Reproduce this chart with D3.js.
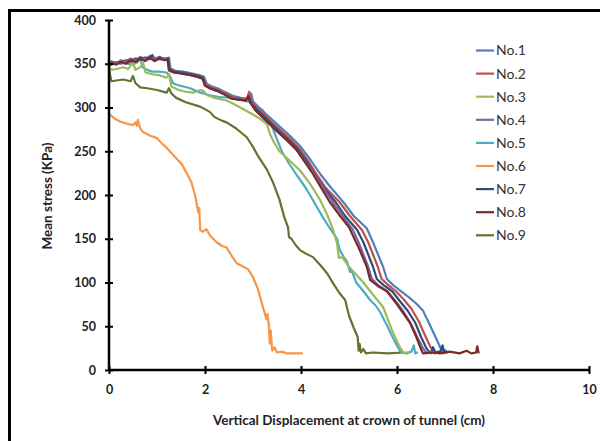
<!DOCTYPE html>
<html><head><meta charset="utf-8">
<script src="https://cdn.jsdelivr.net/npm/d3@7"></script>
<style>body{margin:0;background:#fff}svg{display:block}</style>
</head><body>
<svg id="c" width="600" height="441"></svg>
<script>
const seriesNames = ["No.1","No.2","No.3","No.4","No.5","No.6","No.7","No.8","No.9"];
const seriesColors = ["#4F81BD","#C0504D","#9BBB59","#8064A2","#4BACC6","#F79646","#2C4D75","#772C2A","#5F7530"];
const xTicks = [0,2,4,6,8,10];
const yTicks = [0,50,100,150,200,250,300,350,400];

const no1 = [[0,350],[0.05,353],[0.15,350],[0.25,354],[0.35,352],[0.45,356],[0.55,353],[0.65,358],[0.75,355],[0.85,359],[0.95,355],[1.05,358],[1.15,355],[1.25,357],[1.28,345],[1.38,342],[1.55,341],[1.72,339],[1.88,337],[1.98,335],[2.04,327],[2.15,324],[2.3,321],[2.45,317],[2.6,313],[2.75,311],[2.9,310],[2.96,316],[3.0,307],[3.12,300],[3.28,292],[3.42,285],[3.58,277],[3.78,267],[3.98,256],[4.2,240],[4.4,224],[4.6,210],[4.88,192],[5.1,176],[5.37,162],[5.5,146],[5.62,130],[5.71,118],[5.79,104],[5.92,97],[6.06,91],[6.25,83],[6.4,76],[6.54,68],[6.68,52],[6.8,38],[6.9,26],[6.96,19],[7.0,23],[7.05,20]];
const no2 = [[0,349],[0.05,352],[0.15,351],[0.25,353],[0.35,351],[0.45,355],[0.55,354],[0.65,357],[0.75,354],[0.85,358],[0.95,354],[1.05,357],[1.15,356],[1.24,356],[1.26,344],[1.36,341],[1.52,340],[1.7,338],[1.86,336],[1.96,334],[2.02,326],[2.12,323],[2.27,320],[2.42,316],[2.57,312],[2.72,310],[2.87,309],[2.92,318],[2.97,306],[3.08,299],[3.24,291],[3.39,283],[3.55,275],[3.75,265],[3.95,254],[4.15,239],[4.32,224],[4.52,208],[4.8,192],[5.02,176],[5.27,160],[5.4,146],[5.5,132],[5.6,118],[5.68,104],[5.82,97],[5.98,90],[6.15,80],[6.3,70],[6.45,56],[6.58,40],[6.7,26],[6.78,19],[6.85,21],[6.92,20]];
const no3 = [[0,347],[0.05,343],[0.15,344],[0.3,346],[0.4,344],[0.5,352],[0.55,343],[0.65,346],[0.71,351],[0.76,340],[0.9,338],[1.05,337],[1.2,334],[1.25,338],[1.3,324],[1.45,320],[1.6,318],[1.75,317],[1.9,320],[1.96,319],[2.05,314],[2.2,311],[2.45,308],[2.6,304],[2.8,298],[3.0,292],[3.15,287],[3.29,281],[3.35,270],[3.42,262],[3.55,250],[3.75,240],[3.98,228],[4.2,212],[4.4,194],[4.55,177],[4.67,160],[4.75,145],[4.79,128],[4.86,129],[5.0,118],[5.3,100],[5.5,86],[5.71,72],[5.9,45],[6.05,27],[6.13,20],[6.25,20]];
const no4 = [[0,350],[0.05,349],[0.15,352],[0.25,350],[0.35,353],[0.45,352],[0.55,355],[0.65,354],[0.75,356],[0.85,355],[0.95,357],[1.05,355],[1.15,356],[1.22,355],[1.25,342],[1.35,340],[1.5,339],[1.7,337],[1.85,335],[1.95,333],[2.0,325],[2.1,322],[2.25,319],[2.4,315],[2.55,311],[2.7,309],[2.85,308],[2.9,311],[2.95,305],[3.05,297],[3.2,289],[3.35,281],[3.5,273],[3.7,263],[3.9,252],[4.1,237],[4.27,224],[4.45,209],[4.66,192],[4.87,176],[5.08,160],[5.2,146],[5.3,132],[5.4,118],[5.48,104],[5.63,96],[5.8,90],[5.98,78],[6.12,68],[6.28,54],[6.42,38],[6.55,24],[6.62,19],[6.7,21],[6.78,20]];
const no5 = [[0,352],[0.1,350],[0.3,351],[0.5,349],[0.6,352],[0.65,357],[0.7,346],[0.79,343],[0.9,341],[1.05,341],[1.2,340],[1.27,336],[1.33,328],[1.41,326],[1.55,324],[1.69,322],[1.9,317],[2.1,314],[2.3,312],[2.58,311],[2.8,308],[3.0,305],[3.2,297],[3.35,285],[3.49,265],[3.6,250],[3.75,236],[3.92,222],[4.1,208],[4.25,194],[4.45,175],[4.6,162],[4.75,150],[4.81,137],[4.9,128],[4.96,124],[5.02,112],[5.06,113],[5.15,100],[5.3,90],[5.44,80],[5.55,74],[5.65,66],[5.8,50],[5.95,33],[6.06,22],[6.1,20],[6.2,19],[6.3,21],[6.35,28],[6.38,19],[6.42,20]];
const no6 = [[0,293],[0.1,288],[0.23,284],[0.4,281],[0.5,280],[0.55,283],[0.58,279],[0.6,286],[0.65,276],[0.71,272],[0.85,268],[1.0,265],[1.1,259],[1.2,254],[1.3,248],[1.4,242],[1.52,235],[1.62,225],[1.72,214],[1.8,198],[1.86,180],[1.88,185],[1.9,160],[1.96,158],[2.03,161],[2.1,154],[2.24,146],[2.35,142],[2.45,140],[2.55,131],[2.66,122],[2.8,118],[2.9,115],[3.0,106],[3.1,93],[3.2,73],[3.28,58],[3.3,64],[3.33,52],[3.35,30],[3.37,45],[3.4,22],[3.45,26],[3.5,20],[3.6,21],[3.7,19],[4.02,19]];
const no7 = [[0,351],[0.05,350],[0.15,352],[0.25,351],[0.35,354],[0.45,353],[0.55,356],[0.65,355],[0.75,357],[0.85,356],[0.9,360],[0.95,354],[1.05,357],[1.15,355],[1.23,356],[1.26,343],[1.36,341],[1.52,340],[1.7,338],[1.86,336],[1.96,334],[2.01,325],[2.11,322],[2.26,319],[2.41,315],[2.56,311],[2.71,309],[2.86,308],[2.91,312],[2.96,305],[3.07,298],[3.22,290],[3.37,282],[3.52,274],[3.72,264],[3.92,253],[4.12,238],[4.28,224],[4.48,208],[4.72,192],[4.92,176],[5.17,160],[5.3,146],[5.4,132],[5.5,118],[5.58,104],[5.72,97],[5.9,90],[6.07,78],[6.22,68],[6.38,54],[6.5,38],[6.62,24],[6.7,19],[6.75,26],[6.8,20],[6.9,21],[6.95,28],[6.98,20],[7.02,20]];
const no8 = [[0,348],[0.05,351],[0.15,349],[0.25,352],[0.35,350],[0.45,354],[0.55,352],[0.65,356],[0.75,353],[0.85,357],[0.95,353],[1.05,356],[1.15,354],[1.22,355],[1.25,343],[1.35,340],[1.5,339],[1.7,337],[1.85,335],[1.95,333],[2.0,325],[2.1,322],[2.25,319],[2.4,315],[2.55,310],[2.7,309],[2.85,308],[2.9,313],[2.95,305],[3.05,297],[3.2,289],[3.35,281],[3.5,273],[3.7,263],[3.9,252],[4.1,236],[4.25,224],[4.4,210],[4.6,192],[4.8,177],[5.0,163],[5.2,140],[5.37,118],[5.44,103],[5.6,96],[5.79,90],[6.0,75],[6.27,54],[6.4,38],[6.5,24],[6.54,19],[6.7,20],[6.9,19],[7.1,21],[7.3,19],[7.45,22],[7.55,19],[7.65,20],[7.67,27],[7.7,20]];
const no9 = [[0,350],[0.02,338],[0.05,330],[0.3,332],[0.45,330],[0.5,336],[0.55,328],[0.65,323],[0.8,322],[1.0,320],[1.2,317],[1.25,322],[1.3,316],[1.4,311],[1.6,306],[1.9,301],[2.1,295],[2.2,289],[2.35,285],[2.45,283],[2.65,276],[2.87,266],[3.0,255],[3.1,245],[3.29,229],[3.42,214],[3.55,195],[3.65,175],[3.73,163],[3.75,152],[3.8,150],[3.9,142],[3.98,137],[4.1,133],[4.25,129],[4.4,120],[4.55,110],[4.67,99],[4.8,88],[4.92,80],[5.0,62],[5.1,48],[5.18,38],[5.2,22],[5.22,30],[5.25,20],[5.3,24],[5.35,19],[5.5,20],[5.8,19],[6.13,20]];

const seriesData = [no1,no2,no3,no4,no5,no6,no7,no8,no9];

const svg = d3.select("#c");
const x = d3.scaleLinear().domain([0,10]).range([109,589]);
const y = d3.scaleLinear().domain([0,400]).range([370,20]);

// outer frame (left and top edges)
svg.append("path").attr("d","M9.5,441 V10.5 H600").attr("fill","none").attr("stroke","#000").attr("stroke-width",3);

const line = d3.line().x(d=>x(d[0])).y(d=>y(d[1]));
const drawOrder = [8,5,4,2,0,1,6,3,7];
drawOrder.forEach(i=>{
  svg.append("path").datum(seriesData[i]).attr("d",line)
    .attr("fill","none").attr("stroke",seriesColors[i]).attr("stroke-width",2.2)
    .attr("stroke-linejoin","round").attr("stroke-linecap","round");
});

const font = "Lato, 'Open Sans', sans-serif";
// y axis
const yAx = svg.append("g").attr("transform","translate(109,0)")
  .call(d3.axisLeft(y).tickValues(yTicks).tickSize(4).tickPadding(9).tickFormat(d3.format("d")));
yAx.select(".domain").attr("stroke","#000").attr("stroke-width",2.5).attr("d","M0,20V370");
yAx.selectAll(".tick line").attr("x1",4).attr("x2",-4).attr("stroke","#000").attr("stroke-width",2);
yAx.selectAll("text").attr("font-family",font).attr("font-weight","bold").attr("font-size",12.5).attr("fill","#222");

const xAx = svg.append("g").attr("transform","translate(0,370)")
  .call(d3.axisBottom(x).tickValues(xTicks).tickSize(4).tickPadding(11).tickFormat(d3.format("d")));
xAx.select(".domain").attr("stroke","#000").attr("stroke-width",2.5).attr("d","M109,0H589");
xAx.selectAll(".tick line").attr("y1",-4).attr("y2",4).attr("stroke","#000").attr("stroke-width",2);
xAx.selectAll("text").attr("font-family",font).attr("font-weight","bold").attr("font-size",12.5).attr("fill","#222");

svg.append("text").attr("x",349).attr("y",425).attr("text-anchor","middle")
  .attr("font-family",font).attr("font-weight","bold").attr("font-size",13.5).attr("fill","#222")
  .text("Vertical Displacement at crown of tunnel (cm)");
svg.append("text").attr("transform","translate(52,196) rotate(-90)").attr("text-anchor","middle")
  .attr("font-family",font).attr("font-weight","bold").attr("font-size",13.5).attr("fill","#222")
  .text("Mean stress (KPa)");

// legend
const leg = svg.append("g");
seriesNames.forEach((n,i)=>{
  const yy = 50.5 + i*23.1;
  leg.append("line").attr("x1",476).attr("x2",494).attr("y1",yy).attr("y2",yy)
    .attr("stroke",seriesColors[i]).attr("stroke-width",2.2);
  leg.append("text").attr("x",496).attr("y",yy).attr("dy","0.35em")
    .attr("font-family",font).attr("font-size",14).attr("fill","#333").text(n);
});
</script>
</body></html>
